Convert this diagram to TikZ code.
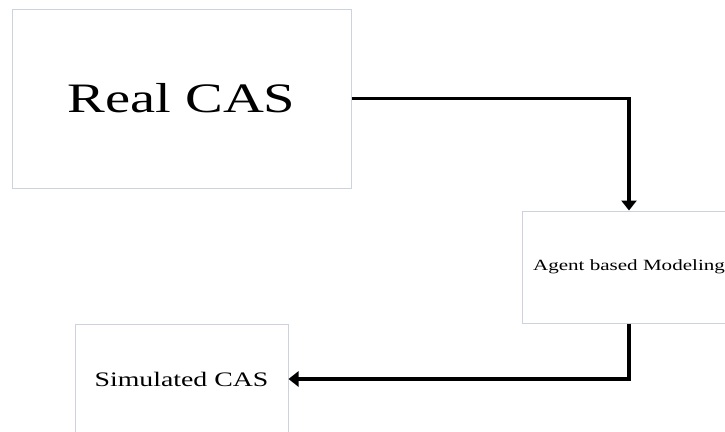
\documentclass[tikz,border=0pt]{standalone}
\usepackage{fontspec}
\newfontfamily\diagfont[FakeStretch=1.35]{Liberation Serif}
\usetikzlibrary{arrows.meta,positioning}
\definecolor{boxline}{RGB}{204,211,222}

\begin{document}
\begin{tikzpicture}[
x=1pt, y=1pt,
box/.style={draw=boxline, line width=1pt, inner sep=0pt, align=center},
arrow/.style={-{Triangle[length=10pt,width=15pt]}, line width=3.2pt}
]
\useasboundingbox (0,0) rectangle (725,-431);
\clip (0,0) rectangle (725,-431);

\node[box, minimum width=339pt, minimum height=179pt, font=\diagfont\fontsize{41.9}{48}\selectfont] (real) at (181.5,-98.5) {Real CAS};
\node[box, minimum width=214pt, minimum height=112pt, font=\diagfont\fontsize{15.6}{18}\selectfont, below right=22pt and 170pt of real] (abm) {Agent based Modeling};
\node[box, minimum width=213pt, minimum height=110pt, font=\diagfont\fontsize{20.6}{24}\selectfont, below left=0pt and 233pt of abm] (sim) {Simulated CAS};

\draw[arrow] (real.east) -| (abm.north);
\draw[arrow] (abm.south) |- (sim.east);
\end{tikzpicture}
\end{document}
